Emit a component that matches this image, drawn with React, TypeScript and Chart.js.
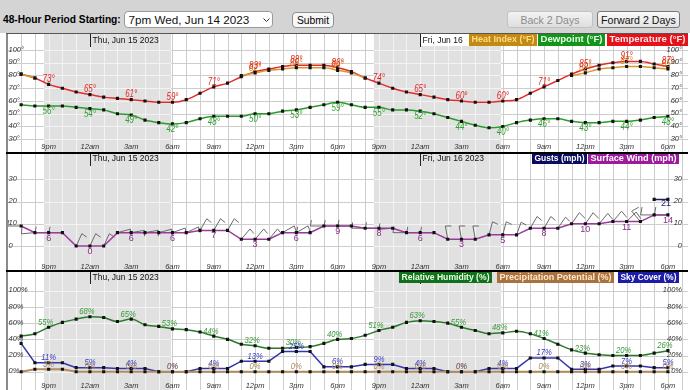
import React, { useEffect, useRef } from "react";
import { Chart, registerables } from "chart.js";
Chart.register(...registerables);

const N = null;

// ---------- DATA ----------
const hourLabels = ["7pm","8pm","9pm","10pm","11pm","12am","1am","2am","3am","4am","5am","6am","7am","8am","9am","10am","11am","12pm","1pm","2pm","3pm","4pm","5pm","6pm","7pm","8pm","9pm","10pm","11pm","12am","1am","2am","3am","4am","5am","6am","7am","8am","9am","10am","11am","12pm","1pm","2pm","3pm","4pm","5pm","6pm"];
const dayLabels = ["Thu, Jun 15 2023", "Fri, Jun 16 2023"];
const dayStartIndex = [5, 29];
const nightStart = [1.65, 25.62]; // hours after first point (sunset)
const nightEnd = [10.9, 34.87]; // sunrise

const temperature = [81,78,73,70,67,65,63,62,61,60,59,59,61,66,71,74,79,83,85,87,88,88,88,86,83,78,74,70,67,65,63,61,60,59,59,60,61,66,71,76,81,85,88,90,91,91,89,87];
const heatIndex = [81,78,N,N,N,N,N,N,N,N,N,N,N,N,N,N,80,82,84,85,86,86,86,84,82,78,N,N,N,N,N,N,N,N,N,N,N,N,N,N,80,82,85,86,87,87,86,85];
const dewpoint = [57,56,56,56,55,54,53,50,49,45,43,42,43,46,48,48,48,50,50,52,53,55,57,59,57,55,55,53,53,52,50,47,44,41,39,40,43,45,46,46,44,43,43,44,44,45,47,48];

const surfaceWind = [9,6,6,6,0,0,0,6,6,6,6,6,6,7,7,7,3,3,3,6,6,6,9,9,9,8,8,8,6,6,6,3,3,3,5,5,5,8,8,8,10,10,10,11,11,11,14,14];
const gusts = [N,N,N,N,N,N,N,N,N,N,N,N,N,N,N,N,N,N,N,N,N,N,N,N,N,N,N,N,N,N,N,N,N,N,N,N,N,N,N,N,N,N,N,N,N,N,21,21];
const windDirection = [270,265,270,270,25,25,25,75,80,80,75,70,65,30,30,30,40,40,40,60,60,270,270,270,270,270,270,265,270,270,270,350,350,350,15,15,20,30,30,35,35,35,40,40,45,320,270,270];

const relativeHumidity = [44,47,55,61,65,68,67,62,65,58,56,53,52,49,44,40,34,32,29,29,30,31,35,40,41,45,51,55,61,63,62,60,55,51,47,48,50,47,41,34,27,23,21,20,20,20,23,26];
const skyCover = [35,11,11,11,5,5,5,4,4,4,0,0,0,4,4,4,13,13,13,25,25,25,6,6,6,9,9,9,4,4,4,0,0,0,4,4,4,17,17,17,3,3,3,7,7,7,5,5];
const precipPotential = [0,3,3,3,0,0,0,0,0,0,0,0,0,0,0,0,0,0,0,0,0,0,0,0,0,0,0,0,0,0,0,0,0,0,0,0,0,0,0,0,0,0,0,0,0,0,0,0];

const tempTicks = [30,40,50,60,70,80,90,100];
const windTicks = [0,10,20,30];
const pctTicks = [0,20,40,60,80,100];

// ---------- LAYOUT ----------
const FF = '"Liberation Sans", Arial, Helvetica, sans-serif';
const CF = '"Liberation Sans"';
const CW = 682;
const PX_PER_HOUR = 651 / 47;
const X_MIN = -13 / PX_PER_HOUR;
const X_MAX = X_MIN + CW / PX_PER_HOUR;
const AX_FONT = `italic 7.5px ${CF}`;

const pts = (arr: (number | null)[]) => arr.map((v, i) => ({ x: i, y: v }));

function ds(label: string, arr: (number | null)[], color: string, order: number, smooth: boolean, width = 1.5) {
  return {
    label,
    data: pts(arr),
    borderColor: color,
    backgroundColor: color,
    borderWidth: width,
    order,
    spanGaps: false,
    tension: smooth ? 0.4 : 0,
    cubicInterpolationMode: smooth ? "monotone" : "default",
    pointStyle: "rect",
    pointRadius: 2.2,
    pointHoverRadius: 0,
    pointBorderWidth: 0,
    pointBackgroundColor: "#111",
    fill: false,
  };
}

type LabelSpec = { ds: number; suffix: string; color: string; font: string; sx: number; dx: number; dy: number };
type LegendItem = { text: string; bg: string; fg: string; x0: number; x1: number };

interface PanelCfg {
  top: number;
  height: number;
  yMin: number;
  yMax: number;
  ticks: number[];
  fmt: (v: number) => string;
  datasets: any[];
  series: (number | null)[][];
  labels: LabelSpec[];
  legend: LegendItem[];
  legendY0: number;
  legendY1: number;
  timeY: number;
  dateY: number;
  topLine: { h: number; color: string };
  barbs?: boolean;
}

const TEMP_FONT = `italic 10px ${CF}`;
const PCT_FONT = `italic 9px ${CF}`;
const WIND_FONT = `9px ${CF}`;

const panels: PanelCfg[] = [
  {
    top: 33, height: 119, yMin: 21.7, yMax: 111.55, ticks: tempTicks, fmt: (v) => v + "°",
    datasets: [
      ds("Heat Index (°F)", heatIndex, "#d9962b", 0, true),
      ds("Temperature (°F)", temperature, "#e42b2b", 1, true),
      ds("Dewpoint (°F)", dewpoint, "#2b9b2b", 2, true),
    ],
    series: [heatIndex, temperature, dewpoint],
    labels: [
      { ds: 0, suffix: "°", color: "#e0851a", font: TEMP_FONT, sx: 0.8, dx: 0, dy: -5 },
      { ds: 1, suffix: "°", color: "#e02424", font: TEMP_FONT, sx: 0.8, dx: 0, dy: -5 },
      { ds: 2, suffix: "°", color: "#33a033", font: TEMP_FONT, sx: 0.8, dx: 0, dy: 5.5 },
    ],
    legend: [
      { text: "Heat Index (°F)", bg: "#c38a12", fg: "#ffd98a", x0: 463, x1: 531 },
      { text: "Dewpoint (°F)", bg: "#13941a", fg: "#eaffea", x0: 532, x1: 599 },
      { text: "Temperature (°F)", bg: "#e5121b", fg: "#ffe8e8", x0: 601, x1: 682 },
    ],
    legendY0: 0, legendY1: 13, timeY: 113.7, dateY: 7.7, topLine: { h: 1, color: "#555" },
  },
  {
    top: 152, height: 118, yMin: -9.87, yMax: 41.4, ticks: windTicks, fmt: (v) => String(v),
    datasets: [
      ds("Gusts (mph)", gusts, "#1d1d66", 0, false),
      ds("Surface Wind (mph)", surfaceWind, "#9c3a9c", 1, false),
    ],
    series: [gusts, surfaceWind],
    labels: [
      { ds: 1, suffix: "", color: "#8e2a8e", font: WIND_FONT, sx: 1, dx: 0, dy: 5.5 },
      { ds: 0, suffix: "", color: "#1d1d66", font: WIND_FONT, sx: 1, dx: -2, dy: 4 },
    ],
    legend: [
      { text: "Gusts (mph)", bg: "#0b0b5e", fg: "#ffffff", x0: 526, x1: 581 },
      { text: "Surface Wind (mph)", bg: "#9b1b9b", fg: "#ffffff", x0: 582, x1: 673 },
    ],
    legendY0: 1, legendY1: 12, timeY: 115, dateY: 7, topLine: { h: 2, color: "#000" },
    barbs: true,
  },
  {
    top: 270, height: 120, yMin: -19.9, yMax: 123, ticks: pctTicks, fmt: (v) => v + "%",
    datasets: [
      ds("Precipitation Potential (%)", precipPotential, "#b38b5d", 0, false, 2),
      ds("Sky Cover (%)", skyCover, "#3535b0", 1, false),
      ds("Relative Humidity (%)", relativeHumidity, "#2b7a2b", 2, true),
    ],
    series: [precipPotential, skyCover, relativeHumidity],
    labels: [
      { ds: 2, suffix: "%", color: "#3a9a3a", font: PCT_FONT, sx: 0.85, dx: -3, dy: -5 },
      { ds: 1, suffix: "%", color: "#3a3ac0", font: PCT_FONT, sx: 0.85, dx: 0, dy: -5 },
      { ds: 0, suffix: "%", color: "#a88a66", font: PCT_FONT, sx: 0.85, dx: 0, dy: -5 },
    ],
    legend: [
      { text: "Relative Humidity (%)", bg: "#11711a", fg: "#eaffea", x0: 393, x1: 486 },
      { text: "Precipitation Potential (%)", bg: "#a8713d", fg: "#ffe9cf", x0: 491, x1: 608 },
      { text: "Sky Cover (%)", bg: "#1c1ca8", fg: "#ffffff", x0: 612, x1: 673 },
    ],
    legendY0: 2, legendY1: 13, timeY: 115.7, dateY: 7.7, topLine: { h: 2, color: "#000" },
  },
];

function makePlugin(p: PanelCfg) {
  return {
    id: "nwsPanel",
    beforeDatasetsDraw(chart: any) {
      const ctx: CanvasRenderingContext2D = chart.ctx;
      const xs = chart.scales.x, ys = chart.scales.y;
      const W = chart.width, H = chart.height;
      ctx.save();
      ctx.fillStyle = "#ffffff";
      ctx.fillRect(0, 0, W, H);
      const grid = (color: string) => {
        ctx.strokeStyle = color;
        ctx.lineWidth = 1;
        ctx.beginPath();
        for (let h = Math.ceil(xs.min); h <= Math.floor(xs.max); h++) {
          const px = Math.round(xs.getPixelForValue(h)) + 0.5;
          ctx.moveTo(px, 0); ctx.lineTo(px, H);
        }
        for (const v of p.ticks) {
          const py = Math.round(ys.getPixelForValue(v)) + 0.5;
          ctx.moveTo(0, py); ctx.lineTo(W, py);
        }
        ctx.stroke();
      };
      grid("#cdcdcd");
      nightStart.forEach((s, k) => {
        const x0 = xs.getPixelForValue(s), x1 = xs.getPixelForValue(nightEnd[k]);
        ctx.save();
        ctx.beginPath(); ctx.rect(x0, 0, x1 - x0, H); ctx.clip();
        ctx.fillStyle = "#e1e1e1"; ctx.fillRect(x0, 0, x1 - x0, H);
        grid("#f3f3f3");
        ctx.restore();
      });
      if (p.barbs) {
        ctx.strokeStyle = "#6a6a6a";
        ctx.lineWidth = 1;
        const L = 13.5;
        const t = (100 * Math.PI) / 180;
        for (let i = 0; i < surfaceWind.length; i++) {
          const px = xs.getPixelForValue(i), py = ys.getPixelForValue(surfaceWind[i]);
          const a = ((90 - windDirection[i]) * Math.PI) / 180;
          const dx = Math.cos(a), dy = -Math.sin(a);
          const tx = px + dx * L, ty = py + dy * L;
          const fx = dx * Math.cos(t) - dy * Math.sin(t);
          const fy = dx * Math.sin(t) + dy * Math.cos(t);
          const F = surfaceWind[i] >= 10 ? 8 : 6;
          ctx.beginPath();
          ctx.moveTo(px, py); ctx.lineTo(tx, ty); ctx.lineTo(tx + fx * F, ty + fy * F);
          ctx.stroke();
        }
      }
      ctx.restore();
    },
    afterDatasetsDraw(chart: any) {
      const ctx: CanvasRenderingContext2D = chart.ctx;
      const xs = chart.scales.x, ys = chart.scales.y;
      const W = chart.width, H = chart.height;
      const txt = (s: string, x: number, y: number, font: string, color: string, align: CanvasTextAlign, sx = 1) => {
        ctx.save();
        ctx.font = font; ctx.fillStyle = color; ctx.textAlign = align; ctx.textBaseline = "middle";
        ctx.translate(x, y); ctx.scale(sx, 1); ctx.fillText(s, 0, 0);
        ctx.restore();
      };
      ctx.save();
      // value labels every 3 hours
      for (const L of p.labels) {
        const meta = chart.getDatasetMeta(L.ds);
        const vals = p.series[L.ds];
        for (let i = 2; i < vals.length; i += 3) {
          const v = vals[i];
          if (v == null) continue;
          const el = meta.data[i];
          txt(String(v) + L.suffix, el.x + L.dx, el.y + L.dy, L.font, L.color, "center", L.sx);
        }
      }
      // y-axis labels both sides
      for (const v of p.ticks) {
        const py = ys.getPixelForValue(v) - 0.5;
        txt(p.fmt(v), 2.5, py, AX_FONT, "#333", "left");
        txt(p.fmt(v), W - 6, py, AX_FONT, "#333", "right");
      }
      // time labels
      for (let i = 2; i < hourLabels.length; i += 3) {
        txt(hourLabels[i], xs.getPixelForValue(i), p.timeY, AX_FONT, "#333", "center");
      }
      // date labels
      const legendLeft = Math.min(...p.legend.map((l) => l.x0));
      dayStartIndex.forEach((idx, k) => {
        const px = Math.round(xs.getPixelForValue(idx)) + 0.5;
        ctx.save();
        if (px < legendLeft && px + 70 > legendLeft) {
          ctx.fillStyle = "#ffffff";
          ctx.fillRect(px, p.legendY0, legendLeft - px, p.legendY1 - p.legendY0);
          ctx.beginPath();
          ctx.rect(px - 1, 0, legendLeft - px - 4, H);
          ctx.clip();
        }
        ctx.strokeStyle = "#222"; ctx.lineWidth = 1;
        ctx.beginPath(); ctx.moveTo(px, 0); ctx.lineTo(px, 14); ctx.stroke();
        txt(dayLabels[k], px + 2, p.dateY, `8.5px ${CF}`, "#111", "left");
        ctx.restore();
      });
      // legend boxes
      for (const it of p.legend) {
        ctx.fillStyle = it.bg;
        ctx.fillRect(it.x0, p.legendY0, it.x1 - it.x0, p.legendY1 - p.legendY0);
        ctx.font = `bold 8.5px ${CF}`;
        const w = ctx.measureText(it.text).width;
        const sx = (it.x1 - it.x0 - 5) / w;
        txt(it.text, (it.x0 + it.x1) / 2, (p.legendY0 + p.legendY1) / 2 + 0.5, `bold 8.5px ${CF}`, it.fg, "center", sx);
      }
      // borders
      ctx.fillStyle = "#8a8a8a";
      ctx.fillRect(0, 0, 2, H);
      ctx.fillStyle = p.topLine.color;
      ctx.fillRect(0, 0, W, p.topLine.h);
      ctx.restore();
    },
  };
}

function Panel({ cfg }: { cfg: PanelCfg }) {
  const ref = useRef<HTMLCanvasElement>(null);
  useEffect(() => {
    const chart = new Chart(ref.current as HTMLCanvasElement, {
      type: "line",
      data: { datasets: cfg.datasets as any },
      options: {
        responsive: false,
        animation: false,
        devicePixelRatio: 1,
        events: [],
        layout: { padding: 0 },
        plugins: { legend: { display: false }, tooltip: { enabled: false } },
        scales: {
          x: { type: "linear", min: X_MIN, max: X_MAX, display: false },
          y: { type: "linear", min: cfg.yMin, max: cfg.yMax, display: false },
        },
      } as any,
      plugins: [makePlugin(cfg)],
    });
    return () => chart.destroy();
  }, []);
  return (
    <canvas
      ref={ref}
      width={CW}
      height={cfg.height}
      style={{ position: "absolute", left: 6, top: cfg.top, width: CW, height: cfg.height, display: "block" }}
    />
  );
}

export default function App() {
  const btn: React.CSSProperties = {
    position: "absolute", boxSizing: "border-box", display: "flex", alignItems: "center", justifyContent: "center",
    whiteSpace: "nowrap", borderRadius: 3,
  };
  return (
    <div style={{ position: "fixed", left: 0, top: 0, width: 690, height: 390, background: "#ffffff", overflow: "hidden", fontFamily: FF }}>
      <div style={{ position: "absolute", left: 0, top: 0, width: 690, height: 33, background: "#d4d4d4" }} />
      <div style={{ position: "absolute", left: 3, top: 14, fontSize: 10.2, fontWeight: 700, lineHeight: "12px", color: "#000", whiteSpace: "nowrap" }}>
        48-Hour Period Starting:
      </div>
      <div style={{ position: "absolute", left: 124, top: 11, width: 149, height: 17, boxSizing: "border-box", border: "1px solid #9a9a9a", borderRadius: 4, background: "#fff" }}>
        <span style={{ position: "absolute", left: 3.5, top: 1, fontSize: 11.7, lineHeight: "14px", color: "#111", whiteSpace: "nowrap" }}>7pm Wed, Jun 14 2023</span>
        <svg style={{ position: "absolute", left: 138, top: 6 }} width="7" height="5">
          <polyline points="0.5,0.5 3.5,3.5 6.5,0.5" fill="none" stroke="#333" strokeWidth="1" />
        </svg>
      </div>
      <div style={{ ...btn, left: 292, top: 12, width: 42, height: 16, border: "1px solid #8f8f8f", background: "#f7f7f7", borderRadius: 4, fontSize: 10.3, color: "#000" }}>
        Submit
      </div>
      <div style={{ ...btn, left: 507, top: 11, width: 86, height: 17, border: "1px solid #c2c2c2", background: "linear-gradient(#f3f3f3,#dedede)", fontSize: 10.5, color: "#8c8c8c" }}>
        Back 2 Days
      </div>
      <div style={{ ...btn, left: 597, top: 11, width: 83, height: 17, border: "1px solid #777", background: "linear-gradient(#fbfbfb,#e2e2e2)", fontSize: 10.6, color: "#111" }}>
        Forward 2 Days
      </div>
      {panels.map((p, i) => (
        <Panel key={i} cfg={p} />
      ))}
    </div>
  );
}
